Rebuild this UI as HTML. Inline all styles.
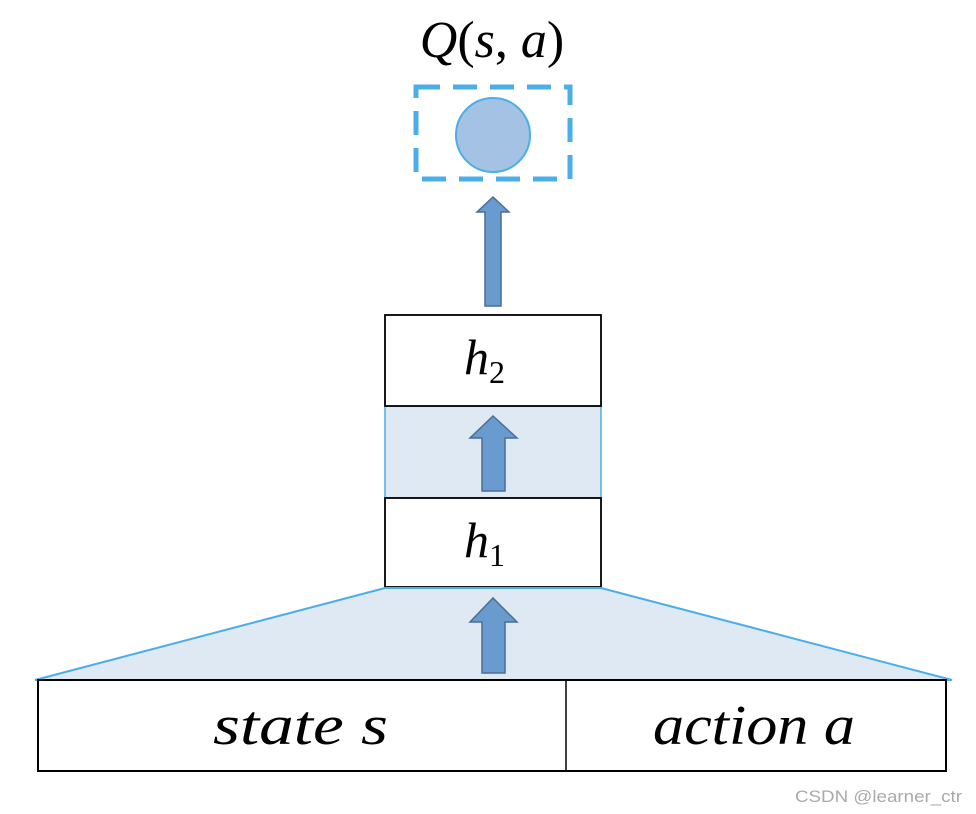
<!DOCTYPE html>
<html><head><meta charset="utf-8"><style>
html,body{margin:0;padding:0;background:#fff;}
svg{display:block;}
text{font-family:"Liberation Serif",serif;font-style:italic;fill:#000;}
</style></head><body>
<svg width="976" height="814" viewBox="0 0 976 814" xmlns="http://www.w3.org/2000/svg">
<text x="492" y="57" font-size="52" text-anchor="middle" style="font-style:normal"><tspan font-style="italic">Q</tspan>(<tspan font-style="italic">s</tspan>, <tspan font-style="italic">a</tspan>)</text>
<rect x="416" y="87" width="154" height="92" fill="none" stroke="#4baee8" stroke-width="5" stroke-dasharray="24,13"/>
<circle cx="493" cy="135" r="37" fill="#a4c2e4" stroke="#4baee8" stroke-width="2"/>
<polygon points="493,197 509,212 501,212 501,306 485,306 485,212 477,212" fill="#6a9bcf" stroke="#4a6e96" stroke-width="1.5"/>
<rect x="385" y="406" width="216" height="92" fill="#dfe9f4" stroke="#4baee8" stroke-width="1.5"/>
<rect x="385" y="315" width="216" height="91" fill="#fff" stroke="#000" stroke-width="1.8"/>
<rect x="385" y="498" width="216" height="89" fill="#fff" stroke="#000" stroke-width="1.8"/>
<text x="464" y="374" font-size="50">h</text><text x="489" y="383" font-size="32" style="font-style:normal">2</text>
<text x="464" y="557" font-size="50">h</text><text x="489" y="566" font-size="32" style="font-style:normal">1</text>
<polygon points="493,416 517,438 505,438 505,491 482,491 482,438 470,438" fill="#6a9bcf" stroke="#4a6e96" stroke-width="1.5"/>
<polygon points="385,588 601,588 952,680 35,680" fill="#dfe9f4" stroke="#4baee8" stroke-width="2"/>
<polygon points="493,598 517,622 505,622 505,673 482,673 482,622 470,622" fill="#6a9bcf" stroke="#4a6e96" stroke-width="1.5"/>
<rect x="38" y="680" width="908" height="91" fill="#fff" stroke="#000" stroke-width="2"/>
<line x1="566" y1="680" x2="566" y2="771" stroke="#000" stroke-width="1.5"/>
<text x="213" y="744" font-size="56" textLength="175" lengthAdjust="spacingAndGlyphs">state s</text>
<text x="653" y="744" font-size="56" textLength="202" lengthAdjust="spacingAndGlyphs">action a</text>
<text x="795" y="802" font-size="17" textLength="167" lengthAdjust="spacingAndGlyphs" style="font-style:normal;font-family:'Liberation Sans',sans-serif;fill:#aaa">CSDN @learner_ctr</text>
</svg>
</body></html>
